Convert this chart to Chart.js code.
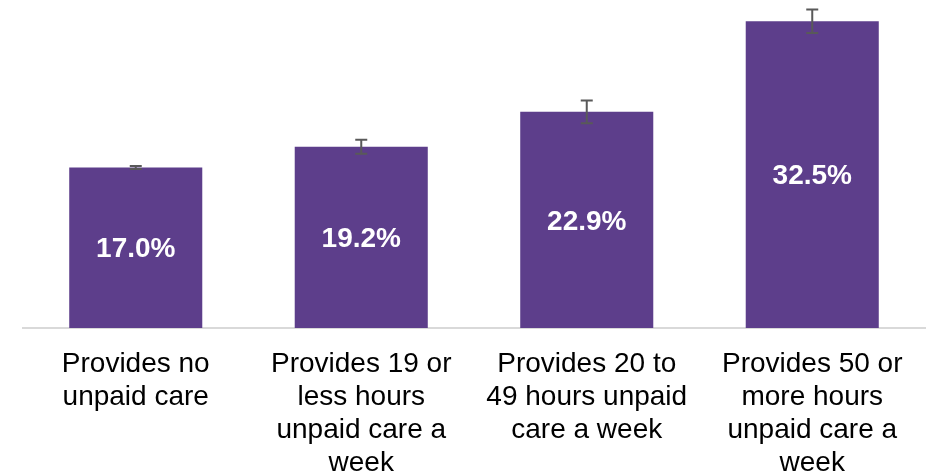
<!DOCTYPE html>
<html>
<head>
<meta charset="UTF-8">
<title>Unpaid care</title>
<script src="https://cdn.jsdelivr.net/npm/chart.js@4.4.1/dist/chart.umd.min.js"></script>
<style>
	body { margin: 0; background: #fff; }
	#wrap { width: 933px; height: 476px; }
</style>
</head>
<body>
<div id="wrap"><canvas id="bar-chart"></canvas></div>
<script>
// categories, split into the lines shown under each bar
var categorias = [
	["Provides no", "unpaid care"],
	["Provides 19 or", "less hours", "unpaid care a", "week"],
	["Provides 20 to", "49 hours unpaid", "care a week"],
	["Provides 50 or", "more hours", "unpaid care a", "week"]
];
var valores = [17.0, 19.2, 22.9, 32.5];
var errorBajo = [16.85, 18.45, 21.7, 31.25];
var errorAlto = [17.15, 19.95, 24.1, 33.75];

var barColor = "#5d3e8b";
var errColor = "#595959";

var etiquetasPlugin = {
	id: "etiquetas",
	afterDatasetsDraw: function(chart) {
		var ctx = chart.ctx;
		var meta = chart.getDatasetMeta(0);
		var y = chart.scales.y;
		ctx.save();
		// error bars
		ctx.strokeStyle = errColor;
		ctx.lineWidth = 2;
		meta.data.forEach(function(bar, i) {
			var yl = y.getPixelForValue(errorBajo[i]);
			var yh = y.getPixelForValue(errorAlto[i]);
			ctx.beginPath();
			ctx.moveTo(bar.x, yl); ctx.lineTo(bar.x, yh);
			ctx.moveTo(bar.x - 6, yl); ctx.lineTo(bar.x + 6, yl);
			ctx.moveTo(bar.x - 6, yh); ctx.lineTo(bar.x + 6, yh);
			ctx.stroke();
		});
		// value labels
		ctx.fillStyle = "#ffffff";
		ctx.font = "bold 28px 'Liberation Sans', Arial, sans-serif";
		ctx.textAlign = "center";
		ctx.textBaseline = "middle";
		meta.data.forEach(function(bar, i) {
			ctx.fillText(valores[i].toFixed(1) + "%", bar.x, (bar.y + bar.base) / 2 + 2);
		});
		ctx.restore();
	}
};

new Chart(document.getElementById("bar-chart").getContext("2d"), {
	type: "bar",
	data: {
		labels: categorias,
		datasets: [{
			data: valores,
			backgroundColor: barColor,
			barPercentage: 0.59,
			categoryPercentage: 1.0
		}]
	},
	options: {
		responsive: true,
		maintainAspectRatio: false,
		animation: false,
		layout: { padding: { left: 23, right: 8, top: 0, bottom: 0 } },
		plugins: { legend: { display: false }, tooltip: { enabled: false } },
		scales: {
			x: {
				grid: { display: false },
				border: { display: true, color: "#d9d9d9", width: 2 },
				ticks: {
					color: "#000",
					maxRotation: 0,
					autoSkip: false,
					padding: 12,
					font: { family: "'Liberation Sans', Arial, sans-serif", size: 28, lineHeight: 1.18 }
				},
				afterFit: function(scale) { scale.height = 148; }
			},
			y: {
				display: false,
				min: 0,
				max: 34.75
			}
		}
	},
	plugins: [etiquetasPlugin]
});
</script>
</body>
</html>
